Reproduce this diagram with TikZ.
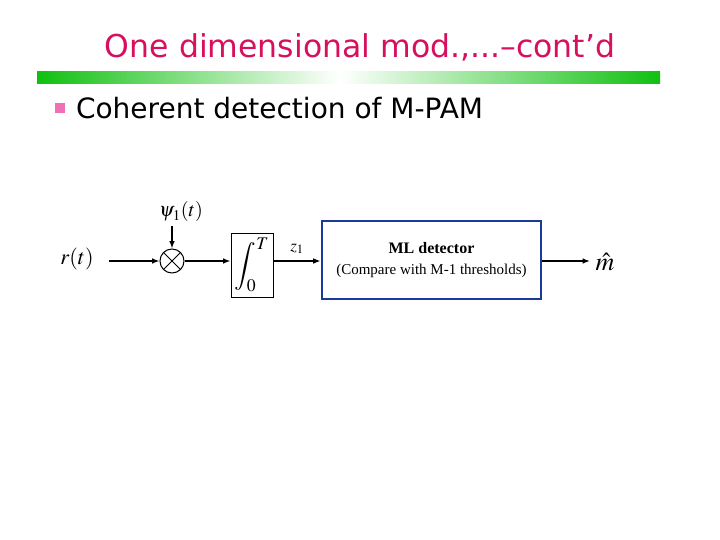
\documentclass[tikz,border=0pt]{standalone}
\usepackage{mathptmx}
\usepackage{amsmath}
\usepackage{fontspec}
\setmainfont{Liberation Serif}
\newfontfamily\slidefont{DejaVu Sans}
\usetikzlibrary{positioning,arrows.meta}
\usepackage{xcolor}
\definecolor{titlered}{HTML}{D6105E}
\definecolor{barGreen}{HTML}{10C010}
\definecolor{boxBlue}{HTML}{1A3B9C}
\definecolor{bulletPink}{HTML}{F070B8}

\begin{document}
\begin{tikzpicture}[x=1pt,y=-1pt,>={Latex[length=2.6mm,width=2mm]},line width=1.4pt]
\useasboundingbox (0,0) rectangle (720,540);
\node[font=\slidefont\fontsize{31.5}{36}\selectfont,text=titlered] (title) at (360,47) {One dimensional mod.,...–cont’d};
\shade[left color=barGreen,right color=white] (37,72) rectangle (340,84);
\shade[left color=white,right color=barGreen] (340,72) rectangle (660,84);
\fill[bulletPink] (55,103) rectangle (65,113);
\node[font=\slidefont\fontsize{28}{32}\selectfont,anchor=west] (item) at (72,108) {Coherent detection of M-PAM};
% block diagram
\node (r) at (77,259) {\fontsize{22}{25}\selectfont$r(t)$};
\coordinate (rin) at (109,261);
\node[draw,circle,minimum size=24pt,inner sep=0pt,line width=1pt] (mult) at (172,261) {};
\draw[line width=1pt] (mult.north west) -- (mult.south east) (mult.north east) -- (mult.south west);
\node (psi) at (181,212) {\fontsize{20}{24}\selectfont$\psi_1(t)$};
\node[draw,minimum width=42pt,minimum height=64pt,inner sep=0pt,line width=1pt] (int) at (252,265) {\fontsize{24}{28}\selectfont$\displaystyle\int_0^T$};
\node[draw=boxBlue,line width=2.8pt,minimum width=219pt,minimum height=78pt,align=center,font=\fontsize{15}{21}\selectfont] (ml) at (431.5,260) {{\fontsize{16}{21}\selectfont\textbf{ML detector}}\\(Compare with M-1 thresholds)};
\node[anchor=west,inner sep=0pt] (mhat) at (595,262) {\fontsize{26}{30}\selectfont$\hat{m}$};
\coordinate (mout) at (590,261);
\draw[->] (rin) -- (mult);
\draw[->] (mult |- psi.south) -- (mult);
\draw[->] (mult) -- (int.west |- mult);
\draw[->] (int.east |- mult) -- node[above=3pt] {\fontsize{17}{20}\selectfont$z_1$} (ml.west |- mult);
\draw[->] (ml.east |- mult) -- (mout);
\end{tikzpicture}
\end{document}
